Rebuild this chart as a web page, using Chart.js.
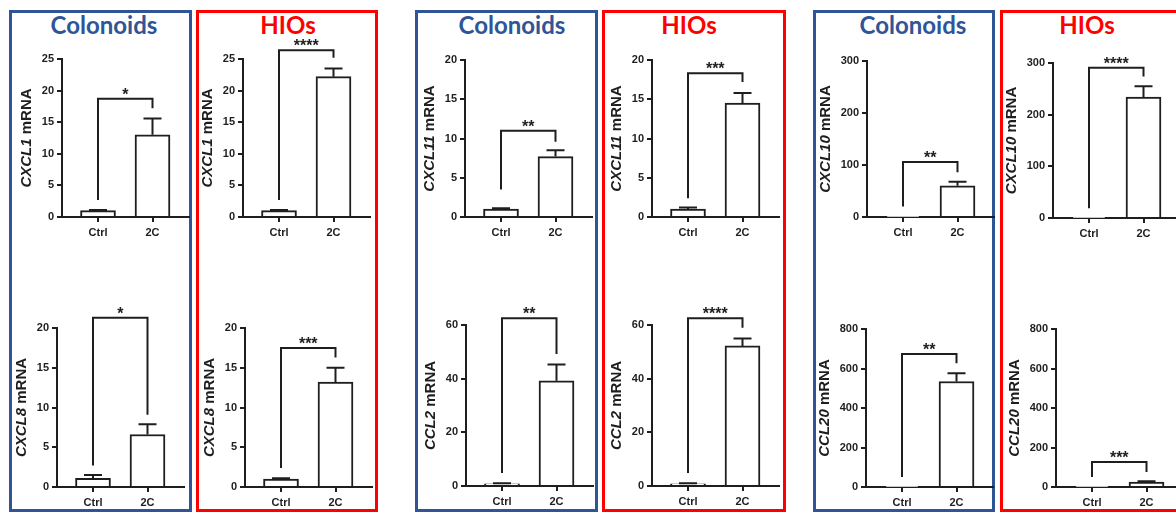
<!DOCTYPE html>
<html>
<head>
<meta charset="utf-8">
<script src="https://cdn.jsdelivr.net/npm/chart.js@4.4.1/dist/chart.umd.min.js"></script>
<style>
  html, body { margin: 0; padding: 0; background: #fff; }
  body { width: 1176px; height: 517px; position: relative; overflow: hidden; font-family: "Liberation Sans", Arial, sans-serif; }
  .caja { position: absolute; top: 10px; height: 502px; border: 3px solid; box-sizing: border-box; }
  .azul { border-color: #2F5597; }
  .roja { border-color: #FF0000; }
  .titulo { position: absolute; top: 11px; width: 160px; margin-left: -80px; text-align: center;
            font-family: Lato, "Open Sans", sans-serif; font-weight: 700; font-size: 24px; line-height: 28px; }
  .titulo.azul { color: #2F5597; }
  .titulo.roja { color: #FF0000; }
  canvas { position: absolute; }
</style>
</head>
<body>
<script>
// datos
const grupos = ["Ctrl", "2C"];
const titulosCajas = ["Colonoids", "HIOs", "Colonoids", "HIOs", "Colonoids", "HIOs"];
const genes = ["CXCL1", "CXCL1", "CXCL8", "CXCL8", "CXCL11", "CXCL11", "CCL2", "CCL2", "CXCL10", "CXCL10", "CCL20", "CCL20"];
const mediasCtrl = [1.0, 1.0, 1.1, 1.0, 1.0, 1.0, 0.8, 0.8, 0.5, 0.5, 1, 1];
const errCtrl = [0.1, 0.1, 0.4, 0.1, 0.1, 0.2, 0.2, 0.2, 0, 0, 0, 0];
const medias2C = [13.0, 22.2, 6.6, 13.2, 7.7, 14.5, 39.2, 52.2, 60, 234, 534, 25];
const err2C = [2.6, 1.3, 1.3, 1.8, 0.8, 1.3, 6.1, 2.8, 8, 21, 42, 4];
const ejeMax = [25, 25, 20, 20, 20, 20, 60, 60, 300, 300, 800, 800];
const ejePaso = [5, 5, 5, 5, 5, 5, 20, 20, 100, 100, 200, 200];
const estrellas = ["*", "****", "*", "***", "**", "***", "**", "****", "**", "****", "**", "***"];
// corchete: pie izquierdo, altura, pie derecho (en unidades del eje)
const corcheteIzq = [2.7, 2.7, 2.7, 2.4, 3.5, 2.4, 4.8, 4.8, 20, 19, 51, 51];
const corcheteAlto = [18.7, 26.4, 21.3, 17.5, 11.0, 18.3, 62.5, 62.5, 106, 291, 673, 127];
const corcheteDer = [17.2, 25.2, 9.1, 16.3, 9.6, 17.2, 49.2, 59, 86, 274, 627, 76];

// posiciones en la página: x del eje y, y del tope, y del cero
const posiciones = [
  [62, 59, 217], [243, 59, 217], [57, 328, 487], [245, 328, 487],
  [465, 60, 217], [652, 60, 217], [466, 325, 486], [652, 325, 486],
  [867, 61, 217], [1053, 63, 218], [866, 329, 487], [1056, 329, 487]
];
const cajas = [[9, 192], [196, 378], [415, 598], [602, 786], [813, 995], [1000, 1200]];
const centrosTitulos = [104, 288, 512, 689, 913, 1087];

const TINTA = "#1e1e1e";
const ANCHO_EJE = 60, ALTO_EJE = 37, ARRIBA = 50, LARGO_X = 127;

cajas.forEach((c, i) => {
  const d = document.createElement("div");
  d.className = "caja " + (i % 2 ? "roja" : "azul");
  d.style.left = c[0] + "px";
  d.style.width = (c[1] - c[0]) + "px";
  document.body.appendChild(d);
  const t = document.createElement("div");
  t.className = "titulo " + (i % 2 ? "roja" : "azul");
  t.style.left = centrosTitulos[i] + "px";
  t.textContent = titulosCajas[i];
  document.body.appendChild(t);
});

const extras = {
  id: "extras",
  afterDraw(chart) {
    const i = chart.options.plugins.extras.indice;
    const ctx = chart.ctx;
    const xs = chart.scales.x, ys = chart.scales.y;
    ctx.save();
    ctx.strokeStyle = TINTA;
    ctx.fillStyle = TINTA;
    ctx.lineWidth = 2;
    ctx.lineCap = "butt";

    // barras de error (solo hacia arriba)
    [[mediasCtrl[i], errCtrl[i]], [medias2C[i], err2C[i]]].forEach((m, k) => {
      if (m[1] <= 0) return;
      const x = xs.getPixelForValue(k);
      const y0 = ys.getPixelForValue(m[0]);
      const y1 = ys.getPixelForValue(m[0] + m[1]);
      ctx.beginPath();
      ctx.moveTo(x, y0); ctx.lineTo(x, y1);
      ctx.moveTo(x - 9, y1); ctx.lineTo(x + 9, y1);
      ctx.stroke();
    });

    // corchete de significancia
    const xa = xs.getPixelForValue(0), xb = xs.getPixelForValue(1);
    const yt = ys.getPixelForValue(corcheteAlto[i]);
    ctx.beginPath();
    ctx.moveTo(xa, ys.getPixelForValue(corcheteIzq[i]));
    ctx.lineTo(xa, yt);
    ctx.lineTo(xb, yt);
    ctx.lineTo(xb, ys.getPixelForValue(corcheteDer[i]));
    ctx.stroke();
    ctx.font = "bold 16px 'Liberation Sans', Arial, sans-serif";
    ctx.textAlign = "center";
    ctx.textBaseline = "alphabetic";
    ctx.fillText(estrellas[i], (xa + xb) / 2, yt + 1);

    // título del eje y con el gen en cursiva
    ctx.font = "bold 11px 'Liberation Sans', Arial, sans-serif";
    const anchoTick = ctx.measureText(String(ejeMax[i])).width;
    const cx = chart.chartArea.left - 5 - 3 - anchoTick - 15;
    const cy = (chart.chartArea.top + chart.chartArea.bottom) / 2;
    const fIt = "italic bold 15px 'Liberation Sans', Arial, sans-serif";
    const fNo = "bold 15px 'Liberation Sans', Arial, sans-serif";
    ctx.font = fIt; const w1 = ctx.measureText(genes[i]).width;
    ctx.font = fNo; const w2 = ctx.measureText(" mRNA").width;
    ctx.translate(cx, cy);
    ctx.rotate(-Math.PI / 2);
    ctx.textAlign = "left";
    ctx.textBaseline = "middle";
    ctx.font = fIt; ctx.fillText(genes[i], -(w1 + w2) / 2, 0);
    ctx.font = fNo; ctx.fillText(" mRNA", -(w1 + w2) / 2 + w1, 0);
    ctx.restore();
  }
};

genes.forEach((g, i) => {
  const p = posiciones[i];
  const cv = document.createElement("canvas");
  const ancho = ANCHO_EJE + LARGO_X + 3;
  const alto = p[2] - p[1] + ARRIBA + ALTO_EJE;
  cv.width = ancho; cv.height = alto;
  cv.style.left = (p[0] - ANCHO_EJE) + "px";
  cv.style.top = (p[1] - ARRIBA) + "px";
  document.body.appendChild(cv);

  new Chart(cv.getContext("2d"), {
    type: "bar",
    data: {
      datasets: [{
        data: [{ x: 0, y: mediasCtrl[i] }, { x: 1, y: medias2C[i] }],
        backgroundColor: "#ffffff",
        borderColor: TINTA,
        borderWidth: 2,
        barThickness: 35
      }]
    },
    options: {
      responsive: false,
      animation: false,
      layout: { padding: { top: ARRIBA, left: 0, right: 3, bottom: 0 } },
      plugins: { legend: { display: false }, tooltip: { enabled: false }, extras: { indice: i } },
      scales: {
        x: {
          type: "linear",
          offset: false,
          min: -36 / 54.5,
          max: 91 / 54.5,
          afterBuildTicks: s => { s.ticks = [{ value: 0 }, { value: 1 }]; },
          afterFit: s => { s.height = ALTO_EJE; },
          ticks: {
            callback: v => grupos[v],
            color: TINTA,
            padding: 4,
            font: { family: "'Liberation Sans', Arial, sans-serif", size: 11, weight: "bold" }
          },
          grid: { offset: false, drawOnChartArea: false, tickLength: 5, color: TINTA, lineWidth: 2 },
          border: { color: TINTA, width: 2 }
        },
        y: {
          min: 0,
          max: ejeMax[i],
          afterFit: s => { s.width = ANCHO_EJE; },
          ticks: {
            stepSize: ejePaso[i],
            color: TINTA,
            padding: 3,
            font: { family: "'Liberation Sans', Arial, sans-serif", size: 11, weight: "bold" }
          },
          grid: { drawOnChartArea: false, tickLength: 5, color: TINTA, lineWidth: 2 },
          border: { color: TINTA, width: 2 }
        }
      }
    },
    plugins: [extras]
  });
});
</script>
</body>
</html>
